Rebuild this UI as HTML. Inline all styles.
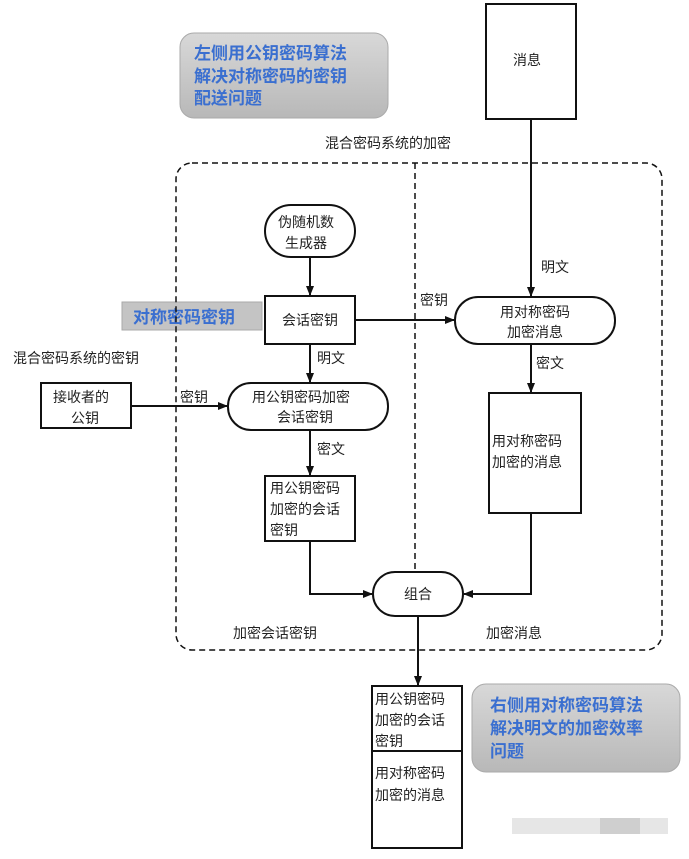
<!DOCTYPE html>
<html><head><meta charset="utf-8"><style>
html,body{margin:0;padding:0;background:#fff;}
svg text{font-family:"Liberation Sans","Noto Sans CJK SC",sans-serif;font-size:14px;fill:#222;}
svg text.b{font-weight:bold;fill:#3a6fd0;font-size:17px;}
</style></head><body>
<svg width="689" height="854" viewBox="0 0 689 854" xmlns="http://www.w3.org/2000/svg">
<defs>
<linearGradient id="g" x1="0" y1="0" x2="0" y2="1"><stop offset="0" stop-color="#d8d8d8"/><stop offset="1" stop-color="#b8b8b8"/></linearGradient>
<marker id="a" markerWidth="10" markerHeight="10" refX="9" refY="5" orient="auto" markerUnits="userSpaceOnUse"><path d="M0,1 L10,5 L0,9 z" fill="#111"/></marker>
</defs>
<rect x="180" y="33" width="208" height="85" rx="14" fill="url(#g)" stroke="#aaa"/>
<rect x="472" y="684" width="208" height="88" rx="14" fill="url(#g)" stroke="#aaa"/>
<rect x="122" y="302" width="140" height="28" fill="#c4c4c4" stroke="#aaa"/>
<text class="b" x="194" y="59">左侧用公钥密码算法</text>
<text class="b" x="194" y="82">解决对称密码的密钥</text>
<text class="b" x="194" y="104">配送问题</text>
<text class="b" x="490" y="711">右侧用对称密码算法</text>
<text class="b" x="490" y="734">解决明文的加密效率</text>
<text class="b" x="490" y="757">问题</text>
<text class="b" x="133" y="323">对称密码密钥</text>

<g fill="none" stroke="#111" stroke-width="1.5" stroke-dasharray="6,4">
<rect x="176" y="163" width="486" height="487" rx="16"/>
<line x1="415" y1="163" x2="415" y2="572"/>
</g>

<g fill="#fff" stroke="#111" stroke-width="2">
<rect x="486" y="4" width="90" height="115"/>
<rect x="265" y="205" width="90" height="52" rx="26"/>
<rect x="265" y="296" width="90" height="48"/>
<rect x="455" y="297" width="160" height="47" rx="23"/>
<rect x="489" y="393" width="92" height="120"/>
<rect x="41" y="383" width="90" height="45"/>
<rect x="228" y="383" width="160" height="47" rx="23"/>
<rect x="265" y="476" width="90" height="65"/>
<rect x="373" y="572" width="90" height="44" rx="22"/>
<rect x="372" y="686" width="90" height="162"/>
<line x1="372" y1="751" x2="462" y2="751"/>
</g>

<g fill="none" stroke="#111" stroke-width="2">
<line x1="531" y1="119" x2="531" y2="296" marker-end="url(#a)"/>
<line x1="310" y1="257" x2="310" y2="295" marker-end="url(#a)"/>
<line x1="355" y1="320" x2="454" y2="320" marker-end="url(#a)"/>
<line x1="531" y1="344" x2="531" y2="392" marker-end="url(#a)"/>
<line x1="310" y1="344" x2="310" y2="382" marker-end="url(#a)"/>
<line x1="131" y1="406" x2="227" y2="406" marker-end="url(#a)"/>
<line x1="310" y1="430" x2="310" y2="475" marker-end="url(#a)"/>
<polyline points="310,541 310,594 372,594" marker-end="url(#a)"/>
<polyline points="531,513 531,594 464,594" marker-end="url(#a)"/>
<line x1="418" y1="616" x2="418" y2="685" marker-end="url(#a)"/>
</g>

<text x="513" y="65">消息</text>
<text x="325" y="148">混合密码系统的加密</text>
<text x="278" y="227">伪随机数</text>
<text x="285" y="248">生成器</text>
<text x="282" y="325">会话密钥</text>
<text x="541" y="272">明文</text>
<text x="420" y="305">密钥</text>
<text x="500" y="317">用对称密码</text>
<text x="507" y="337">加密消息</text>
<text x="536" y="368">密文</text>
<text x="317" y="363">明文</text>
<text x="13" y="363">混合密码系统的密钥</text>
<text x="53" y="402">接收者的</text>
<text x="71" y="423">公钥</text>
<text x="180" y="402">密钥</text>
<text x="252" y="402">用公钥密码加密</text>
<text x="277" y="422">会话密钥</text>
<text x="317" y="454">密文</text>
<text x="270" y="493">用公钥密码</text>
<text x="270" y="514">加密的会话</text>
<text x="270" y="535">密钥</text>
<text x="492" y="446">用对称密码</text>
<text x="492" y="467">加密的消息</text>
<text x="404" y="599">组合</text>
<text x="233" y="638">加密会话密钥</text>
<text x="486" y="638">加密消息</text>
<text x="375" y="704">用公钥密码</text>
<text x="375" y="725">加密的会话</text>
<text x="375" y="746">密钥</text>
<text x="375" y="778">用对称密码</text>
<text x="375" y="800">加密的消息</text>

<rect x="512" y="818" width="156" height="16" fill="#e6e6e6"/>
<rect x="600" y="818" width="40" height="16" fill="#cfcfcf"/>
</svg>
</body></html>
